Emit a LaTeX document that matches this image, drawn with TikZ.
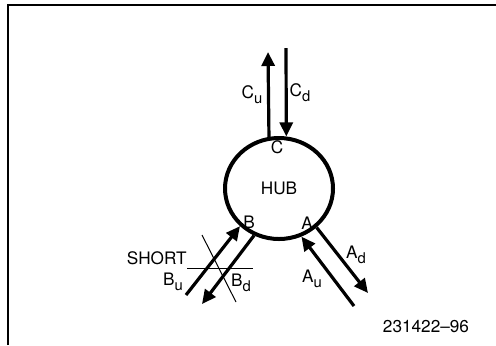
\documentclass[tikz,border=0pt]{standalone}
\usepackage{fontspec}
\setmainfont{TeX Gyre Heros}
\usetikzlibrary{shapes.geometric, arrows.meta}
\newcommand{\lowsub}[1]{\raisebox{-2.4pt}{\fontsize{7.4}{8}\selectfont #1}}

\begin{document}
\begin{tikzpicture}[x=0.5pt,y=-0.5pt,
  lbl/.style={inner sep=0pt, font=\fontsize{8.6}{10}\selectfont},
  port/.style={line width=1.6pt, -{Triangle[length=7pt,width=6.5pt]}},
  hairline/.style={line width=0.5pt}]
\useasboundingbox (0,0) rectangle (496,345);
% frame
\draw[line width=1pt] (8,345) -- (8,5) -- (496,5);
% hub
\node[ellipse, draw, line width=2pt, inner sep=0pt, minimum width=54pt, minimum height=50.5pt, lbl] (hub) at (279,188.5) {HUB};
\node[lbl] (c) at (277,147) {C};
\node[lbl] (b) at (249,222) {B};
\node[lbl] (a) at (307,223) {A};
% free ends
\coordinate (cu) at (268,52);
\coordinate (cd) at (286,48);
\coordinate (bu) at (186,295);
\coordinate (bd) at (202,304);
\coordinate (au) at (354,306);
\coordinate (ad) at (368,293);
% port C
\draw[port] (hub.101.6) -- (cu);
\draw[port] (cd) -- (hub.82.7);
% port B
\draw[port] (bu) -- (hub.224.6);
\draw[port] (hub.242.3) -- (bd);
% port A
\draw[port] (au) -- (hub.295);
\draw[port] (hub.314.7) -- (ad);
% labels
\node[lbl] (lcu) at (252,95) {C\lowsub{u}};
\node[lbl] (lcd) at (300,93) {C\lowsub{d}};
\node[lbl] (lbu) at (173,282) {B\lowsub{u}};
\node[lbl] (lbd) at (241,283) {B\lowsub{d}};
\node[lbl] (lau) at (312,279) {A\lowsub{u}};
\node[lbl] (lad) at (356,255) {A\lowsub{d}};
% short
\node[lbl, anchor=south east] (short) at (187,265) {SHORT};
\coordinate (shortend) at (253,268);
\draw[hairline] (short.south east |- shortend) -- (shortend);
\draw[hairline] (202,235) -- (236,302);
\node[lbl] (fig) at (426,327) {231422--96};
\end{tikzpicture}
\end{document}
